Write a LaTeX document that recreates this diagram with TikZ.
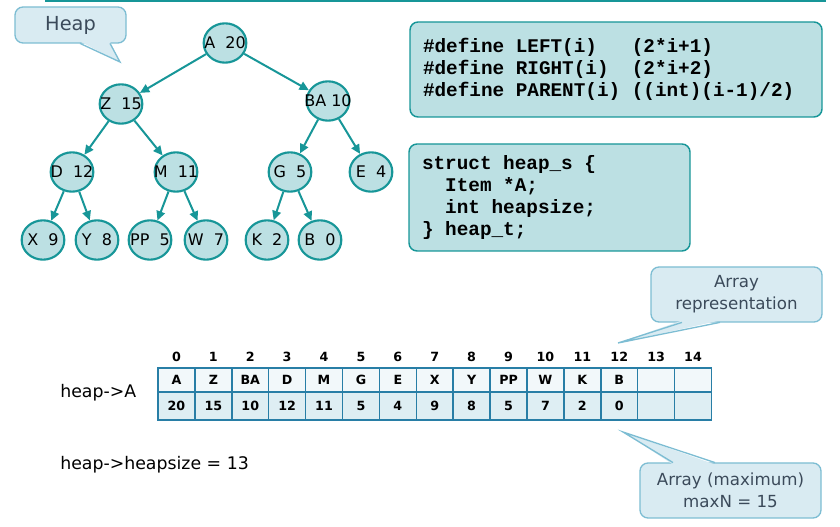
\documentclass[tikz,border=0pt]{standalone}
\usepackage{fontspec}
\setmainfont{DejaVu Sans}
\newfontfamily\codefont{Liberation Mono}
\usetikzlibrary{arrows.meta,shapes.geometric}

\definecolor{hteal}{RGB}{23,150,152}
\definecolor{hfill}{RGB}{188,224,227}
\definecolor{cfill}{RGB}{217,235,242}
\definecolor{cline}{RGB}{125,189,211}
\definecolor{ctext}{RGB}{59,74,90}
\definecolor{tline}{RGB}{40,126,166}
\definecolor{tfillA}{RGB}{242,248,250}
\definecolor{tfillB}{RGB}{222,238,243}

\newcommand\ctr[1]{\makebox[0pt]{#1}}
% one fixed code column
\newcommand\sk{\hphantom{0}}

\tikzset{
  hnode/.style={ellipse, draw=hteal, fill=hfill, line width=1.6pt, minimum width=32pt, minimum height=29.5pt, inner sep=0pt, font=\fontsize{12}{14}\selectfont},
  edge/.style={draw=hteal, line width=1.5pt, -{Triangle[length=7pt,width=6.5pt]}},
  codebox/.style={draw=hteal, fill=hfill, line width=1.1pt, rounded corners=6pt, align=left, inner xsep=9.75pt, font=\codefont\bfseries\fontsize{14.5}{16.3}\selectfont},
  callout/.style={draw=cline, fill=cfill, line width=1pt, rounded corners=6pt, text=ctext, align=center, inner sep=0pt},
  tailline/.style={draw=cline, line width=1pt},
  topcell/.style={draw=tline, fill=tfillA, line width=1.1pt, minimum width=27.675pt, minimum height=18pt, inner sep=0pt, font=\bfseries\fontsize{9.5}{10}\selectfont},
  botcell/.style={topcell, fill=tfillB, minimum height=21pt},
  idx/.style={inner sep=0pt, font=\bfseries\fontsize{9.5}{10}\selectfont},
  plain/.style={anchor=west, inner sep=0pt, font=\fontsize{13}{15}\selectfont}
}

\begin{document}
\begin{tikzpicture}[x=0.75pt,y=0.75pt,yscale=-1,xscale=1]
\useasboundingbox (0,0) rectangle (840,527);

%Straight Lines: header edge
\draw [hteal, line width=2pt] (45,1) -- (826,1);

%Shape: Heap callout
\node [callout, minimum width=83.25pt, minimum height=27pt, font=\fontsize{14.5}{16}\selectfont] (heaplbl) at (70.5,25) {Heap};
\coordinate (heaptip) at (120,62);
\fill [cfill] (80,41.5) -- (heaptip) -- (110,41.5) -- cycle;
\draw [tailline] (80,43.4) -- (heaptip) -- (110,43.4);

%Shape: tree
\node [hnode] (A) at (225,43) {\ctr{A\ \ 20}};
\node [hnode] (Z) at (121,104) {\ctr{Z\ \ 15}};
\node [hnode] (BA) at (328,101) {\ctr{BA 10}};
\node [hnode] (D) at (72,172) {\ctr{D\ \ 12}};
\node [hnode] (M) at (176,172) {\ctr{M\ \ 11}};
\node [hnode] (G) at (290,172) {\ctr{G\ \ 5}};
\node [hnode] (E) at (371,172) {\ctr{E\ \ 4}};
\node [hnode] (X) at (43,240) {\ctr{X\ \ 9}};
\node [hnode] (Y) at (97,240) {\ctr{Y\ \ 8}};
\node [hnode] (PP) at (150,240) {\ctr{PP\ \ 5}};
\node [hnode] (W) at (206,240) {\ctr{W\ \ 7}};
\node [hnode] (K) at (267,240) {\ctr{K\ \ 2}};
\node [hnode] (B) at (320,240) {\ctr{B\ \ 0}};

\draw [edge] (A) -- (Z);
\draw [edge] (A) -- (BA);
\draw [edge] (Z) -- (D);
\draw [edge] (Z) -- (M);
\draw [edge] (BA) -- (G);
\draw [edge] (BA) -- (E);
\draw [edge] (D) -- (X);
\draw [edge] (D) -- (Y);
\draw [edge] (M) -- (PP);
\draw [edge] (M) -- (W);
\draw [edge] (G) -- (K);
\draw [edge] (G) -- (B);

%Shape: code boxes
\node [codebox, minimum width=309pt, minimum height=71.25pt, text width=289.5pt] (defs) at (616,69.5) {%
\#define\sk LEFT(i)\sk\sk\sk(2*i+1)\\
\#define\sk RIGHT(i)\sk\sk(2*i+2)\\
\#define\sk PARENT(i)\sk((int)(i-1)/2)};
\node [codebox, minimum width=210.75pt, minimum height=80.25pt, text width=191.25pt] (hstruct) at (549.5,197.5) {%
struct\sk heap\_s\sk\{\\
\sk\sk Item\sk *A;\\
\sk\sk int\sk heapsize;\\
\}\sk heap\_t;};

%Shape: array callout
\node [callout, minimum width=128.25pt, minimum height=41.25pt, font=\fontsize{12.5}{16.5}\selectfont] (arrlbl) at (736.5,294.5) {Array\\representation};
\coordinate (arrtip) at (618,343);
\fill [cfill] (682,320.5) -- (arrtip) -- (720,320.5) -- cycle;
\draw [tailline] (682,322.4) -- (arrtip) -- (720,322.4);

%Shape: array
\foreach \nm/\val [count=\i from 0] in {A/20,Z/15,BA/10,D/12,M/11,G/5,E/4,X/9,Y/8,PP/5,W/7,K/2,B/0,/,/} {
  \node [topcell] (t\i) at (176.45+36.9*\i,380) {\nm};
  \node [botcell] (b\i) at (176.45+36.9*\i,406) {\val};
  \node [idx] (n\i) at (176.45+36.9*\i,357) {\i};
}

% Text Node
\node [plain] (hA) at (60,393) {heap->A};
% Text Node
\node [plain] (hsize) at (60,465) {heap->heapsize = 13};

%Shape: max callout
\node [callout, minimum width=135.75pt, minimum height=41.25pt, font=\fontsize{12.5}{16.5}\selectfont] (maxlbl) at (730.5,490.5) {Array (maximum)\\maxN = 15};
\coordinate (maxtip) at (623,432);
\fill [cfill] (673,464.5) -- (maxtip) -- (715,464.5) -- cycle;
\draw [tailline] (673,462.6) -- (maxtip) -- (715,462.6);

\end{tikzpicture}
\end{document}
